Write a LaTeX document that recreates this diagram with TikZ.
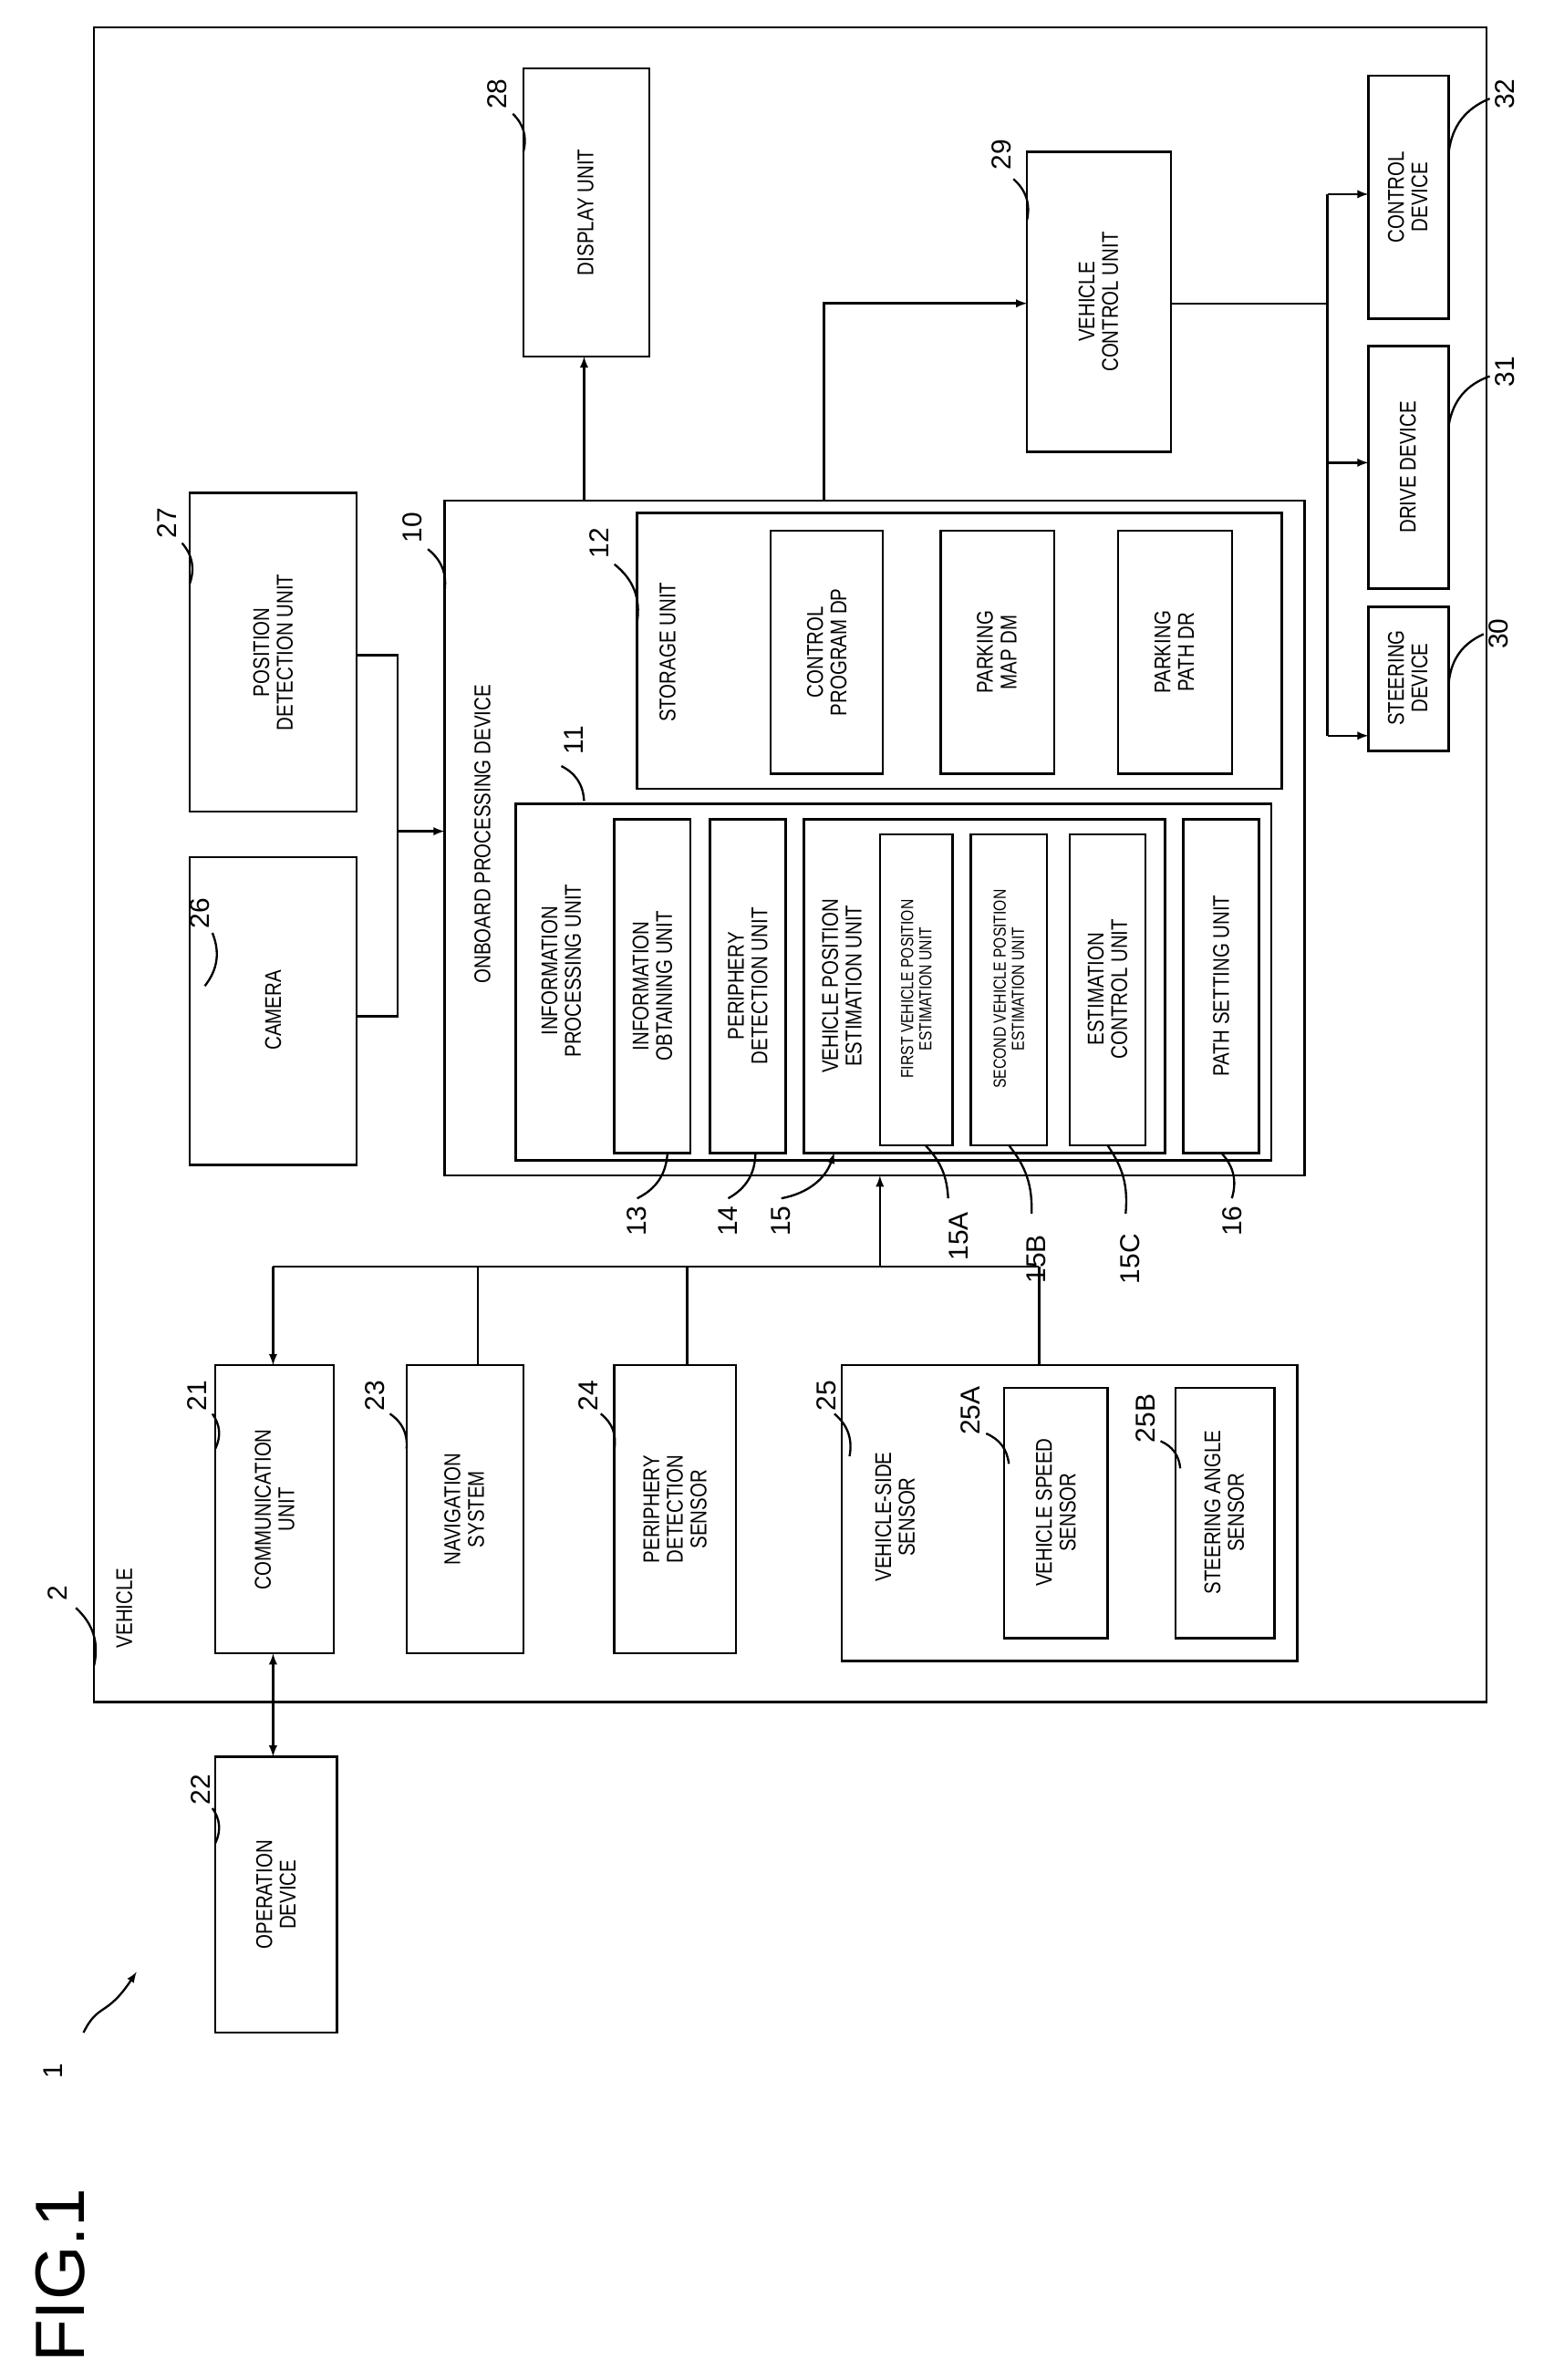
\documentclass[tikz,border=0pt]{standalone}
\usepackage{fontspec}
\setmainfont{Liberation Sans}
\newfontfamily\cond[FakeStretch=0.82]{Liberation Sans}
\begin{document}
\begin{tikzpicture}[x=1pt,y=-1pt,
 bx/.style={draw,line width=1.5pt},
 tx/.style={rotate=90,align=center,font=\cond\fontsize{15}{15.5}\selectfont,inner sep=0pt},
 sx/.style={rotate=90,align=center,font=\cond\fontsize{11.5}{12}\selectfont,inner sep=0pt},
 lb/.style={rotate=90,font=\fontsize{18}{18}\selectfont,inner sep=1pt},
 ln/.style={line width=1.4pt},
 ar/.style={line width=1.5pt,-latex}]
\useasboundingbox (0,0) rectangle (1024,1569);
% outer vehicle
\draw[bx] (62,18) rectangle (980,1122);
\node[tx] at (82,1060) {VEHICLE};
\node[lb] (n2) at (38,1050) {2};
\draw[ln] (50,1060) to[bend left=30] (62,1098);
\node[rotate=90,font=\fontsize{46}{46}\selectfont] at (40,1500) {FIG.1};
\node[lb] at (35,1365) {1};
\draw[ln,-latex] (55,1340) .. controls (65,1320) and (70,1330) .. (90,1300);
% operation
\draw[bx] (142,1158) rectangle (222,1340); \node[tx] (op) at (182,1249) {OPERATION\\DEVICE};
\node[lb] at (132,1180) {22}; \draw[ln] (140,1192) to[bend left=30] (142,1215);
% comm etc
\draw[bx] (142,900) rectangle (220,1090); \node[tx] at (181,995) {COMMUNICATION\\UNIT};
\node[lb] at (130,920) {21}; \draw[ln] (140,932) to[bend left=30] (142,955);
\draw[bx] (268,900) rectangle (345,1090); \node[tx] at (306,995) {NAVIGATION\\SYSTEM};
\node[lb] at (247,920) {23}; \draw[ln] (257,932) to[bend left=30] (268,955);
\draw[bx] (405,900) rectangle (485,1090); \node[tx] at (445,995) {PERIPHERY\\DETECTION\\SENSOR};
\node[lb] at (388,920) {24}; \draw[ln] (396,932) to[bend left=30] (405,955);
\draw[bx] (555,900) rectangle (855,1095); \node[tx] at (590,1000) {VEHICLE-SIDE\\SENSOR};
\node[lb] at (545,920) {25}; \draw[ln] (550,932) to[bend left=30] (560,960);
\draw[bx] (662,915) rectangle (730,1080); \node[tx] at (696,997) {VEHICLE SPEED\\SENSOR};
\node[lb] at (640,930) {25A}; \draw[ln] (650,945) to[bend left=30] (665,965);
\draw[bx] (775,915) rectangle (840,1080); \node[tx] at (807,997) {STEERING ANGLE\\SENSOR};
\node[lb] at (755,935) {25B}; \draw[ln] (765,950) to[bend left=30] (778,968);
% camera, position
\draw[bx] (125,565) rectangle (235,768); \node[tx] at (180,666) {CAMERA};
\node[lb] at (132,602) {26}; \draw[ln] (140,615) to[bend left=30] (135,650);
\draw[bx] (125,325) rectangle (235,535); \node[tx] at (180,430) {POSITION\\DETECTION UNIT};
\node[lb] at (110,345) {27}; \draw[ln] (120,358) to[bend left=30] (125,385);
\draw[bx] (345,45) rectangle (428,235); \node[tx] at (386,140) {DISPLAY UNIT};
\node[lb] at (328,62) {28}; \draw[ln] (338,75) to[bend left=30] (345,100);
% onboard
\draw[bx] (293,330) rectangle (860,775); \node[tx] at (318,550) {ONBOARD PROCESSING DEVICE};
\node[lb] at (272,348) {10}; \draw[ln] (282,362) to[bend left=30] (293,390);
\draw[bx] (420,338) rectangle (845,520); \node[tx] at (440,430) {STORAGE UNIT};
\node[lb] at (395,358) {12}; \draw[ln] (405,372) to[bend left=30] (420,410);
\draw[bx] (508,350) rectangle (582,510); \node[tx] at (545,430) {CONTROL\\PROGRAM DP};
\draw[bx] (620,350) rectangle (695,510); \node[tx] at (657,430) {PARKING\\MAP DM};
\draw[bx] (737,350) rectangle (812,510); \node[tx] at (774,430) {PARKING\\PATH DR};
\draw[bx] (340,530) rectangle (838,765); \node[tx] at (370,640) {INFORMATION\\PROCESSING UNIT};
\node[lb] at (378,488) {11}; \draw[ln] (370,505) to[bend left=30] (385,528);
\draw[bx] (405,540) rectangle (455,760); \node[tx] at (430,650) {INFORMATION\\OBTAINING UNIT};
\draw[bx] (468,540) rectangle (518,760); \node[tx] at (493,650) {PERIPHERY\\DETECTION UNIT};
\draw[bx] (530,540) rectangle (768,760); \node[tx] at (555,650) {VEHICLE POSITION\\ESTIMATION UNIT};
\draw[bx] (580,550) rectangle (628,755); \node[sx] at (604,652) {FIRST VEHICLE POSITION\\ESTIMATION UNIT};
\draw[bx] (640,550) rectangle (690,755); \node[sx] at (665,652) {SECOND VEHICLE POSITION\\ESTIMATION UNIT};
\draw[bx] (705,550) rectangle (755,755); \node[tx] at (730,652) {ESTIMATION\\CONTROL UNIT};
\draw[bx] (780,540) rectangle (830,760); \node[tx] at (805,650) {PATH SETTING UNIT};
\node[lb] at (420,805) {13}; \draw[ln] (420,790) to[bend right=30] (440,760);
\node[lb] at (480,805) {14}; \draw[ln] (480,790) to[bend right=30] (498,760);
\node[lb] at (515,805) {15}; \draw[ln,-latex] (515,790) to[bend right=30] (550,760);
\node[lb] at (632,815) {15A}; \draw[ln] (625,790) to[bend right=20] (610,755);
\node[lb] at (683,830) {15B}; \draw[ln] (680,800) to[bend right=20] (665,755);
\node[lb] at (745,830) {15C}; \draw[ln] (742,800) to[bend right=20] (730,755);
\node[lb] at (812,805) {16}; \draw[ln] (812,790) to[bend right=30] (805,760);
% vehicle control & devices
\draw[bx] (677,100) rectangle (772,298); \node[tx] at (724,199) {VEHICLE\\CONTROL UNIT};
\node[lb] at (660,102) {29}; \draw[ln] (668,118) to[bend left=30] (677,145);
\draw[bx] (902,400) rectangle (955,495); \node[tx] at (928,447) {STEERING\\DEVICE};
\draw[bx] (902,228) rectangle (955,388); \node[tx] at (928,308) {DRIVE DEVICE};
\draw[bx] (902,50) rectangle (955,210); \node[tx] at (928,130) {CONTROL\\DEVICE};
\node[lb] at (988,418) {30}; \draw[ln] (978,418) to[bend right=30] (955,450);
\node[lb] at (992,245) {31}; \draw[ln] (982,248) to[bend right=30] (955,280);
\node[lb] at (992,62) {32}; \draw[ln] (982,65) to[bend right=30] (955,100);
% connectors
\draw[ln] (235,670) -- (262,670) -- (262,432) -- (235,432);
\draw[ar] (262,548) -- (293,548);
\draw[ar] (385,330) -- (385,235);
\draw[ar] (543,330) -- (543,200) -- (677,200);
\draw[ln] (772,200) -- (875,200); \draw[ln] (875,128) -- (875,485);
\draw[ar] (875,128) -- (902,128);
\draw[ar] (875,305) -- (902,305);
\draw[ar] (875,485) -- (902,485);
\draw[ln] (180,835) -- (685,835);
\draw[ar] (180,835) -- (180,900);
\draw[ln] (315,835) -- (315,900); \draw[ln] (453,835) -- (453,900); \draw[ln] (685,835) -- (685,900);
\draw[ar] (580,835) -- (580,775);
\draw[line width=1.5pt,latex-latex] (180,1090) -- (180,1158);
\end{tikzpicture}
\end{document}
